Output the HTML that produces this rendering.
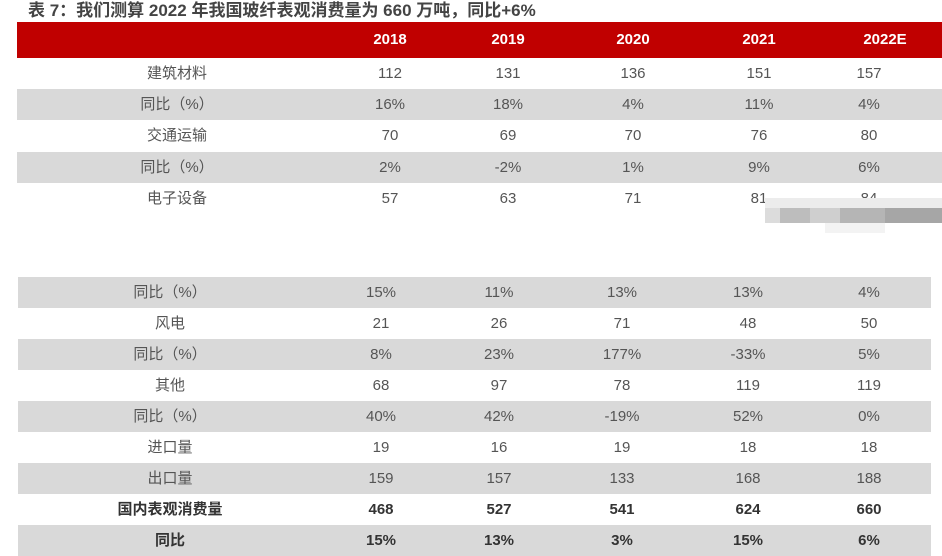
<!DOCTYPE html>
<html><head><meta charset="utf-8">
<style>
body{margin:0;width:942px;height:548px;background:#fff;overflow:hidden;position:relative;font-family:"Liberation Sans","Noto Sans CJK SC",sans-serif;}
.t{position:absolute;left:28px;top:-4px;font-size:17px;font-weight:bold;color:#444;white-space:nowrap;}
.hdr{position:absolute;left:17px;top:22px;width:925px;height:36px;background:#c00000;}
.row{position:absolute;height:31px;}
.gray{background:#d9d9d9;}
.c{position:absolute;top:0;height:31px;line-height:31px;font-size:15px;color:#555;transform:translateX(-50%);white-space:nowrap;}
.h{position:absolute;top:22px;height:36px;line-height:36px;font-size:15px;color:#fff;font-weight:bold;transform:translateX(-50%);}
.b .c{font-weight:bold;color:#333;}
.blur{position:absolute;}
</style></head><body>
<div class="t">表 7：我们测算 2022 年我国玻纤表观消费量为 660 万吨，同比+6%</div>
<div class="hdr"></div>
<div class="h" style="left:390px">2018</div>
<div class="h" style="left:508px">2019</div>
<div class="h" style="left:633px">2020</div>
<div class="h" style="left:759px">2021</div>
<div class="h" style="left:885px">2022E</div>
<div id="tbl"></div>
<div class="blur" style="left:765px;top:198px;width:177px;height:36px;">
<svg width="177" height="36">
<rect x="0" y="0" width="177" height="10" fill="#ececec"/>
<rect x="0" y="10" width="15" height="15" fill="#dcdcdc"/>
<rect x="15" y="10" width="30" height="15" fill="#bdbdbd"/>
<rect x="45" y="10" width="30" height="15" fill="#cfcfcf"/>
<rect x="75" y="10" width="45" height="15" fill="#b5b5b5"/>
<rect x="120" y="10" width="57" height="15" fill="#a6a6a6"/>
<rect x="60" y="25" width="60" height="10" fill="#f3f3f3"/>
</svg></div>
<script>
const labels=["建筑材料","同比（%）","交通运输","同比（%）","电子设备","同比（%）","风电","同比（%）","其他","同比（%）","进口量","出口量","国内表观消费量","同比"];
const v2018=["112","16%","70","2%","57","15%","21","8%","68","40%","19","159","468","15%"];
const v2019=["131","18%","69","-2%","63","11%","26","23%","97","42%","16","157","527","13%"];
const v2020=["136","4%","70","1%","71","13%","71","177%","78","-19%","19","133","541","3%"];
const v2021=["151","11%","76","9%","81","13%","48","-33%","119","52%","18","168","624","15%"];
const v2022=["157","4%","80","6%","84","4%","50","5%","119","0%","18","188","660","6%"];
const tbl=document.getElementById('tbl');
labels.forEach((lab,i)=>{
  const upper=i<5;
  const top=upper?58+i*31.2:277+(i-5)*31;
  const gray=upper?(i%2==1):([5,7,9,11,13].includes(i));
  const r=document.createElement('div');
  
  
  r.className='row'+(gray?' gray':'')+(i>=12?' b':'');
  r.style.top=top+'px';
  r.style.left=upper?'17px':'18px';
  r.style.width=upper?'925px':'913px';
  const xs=upper?[177,390,508,633,759,869]:[170,381,499,622,748,869];
  const xsAdj=xs.map(x=>x-(upper?17:18));
  const vals=[lab,v2018[i],v2019[i],v2020[i],v2021[i],v2022[i]];
  vals.forEach((v,j)=>{
    const c=document.createElement('div');
    
    
    c.className='c';c.style.left=xsAdj[j]+'px';c.textContent=v;
    r.appendChild(c);
  });
  tbl.appendChild(r);
});
</script>
</body></html>
